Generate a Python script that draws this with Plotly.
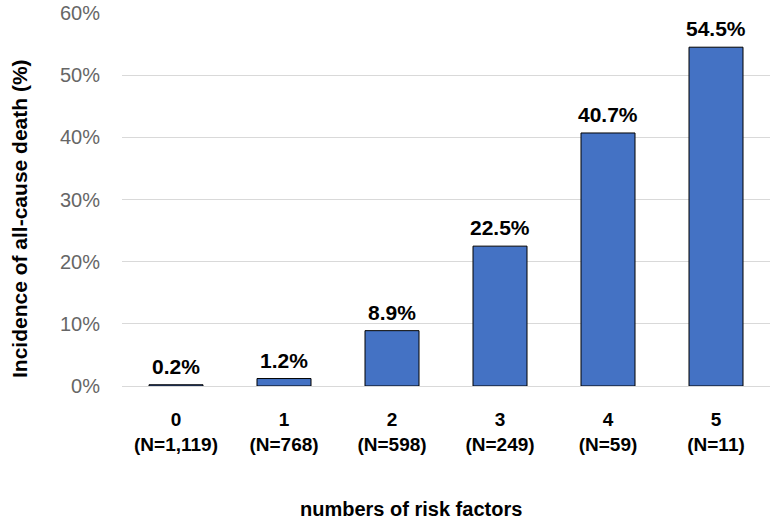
import plotly.graph_objects as go

risk_factors = ["0", "1", "2", "3", "4", "5"]
n_counts = ["1,119", "768", "598", "249", "59", "11"]
incidence = [0.2, 1.2, 8.9, 22.5, 40.7, 54.5]
y_ticks = [0, 10, 20, 30, 40, 50, 60]
x_title = "numbers of risk factors"
y_title = "Incidence of all-cause death (%)"

categories = [f"<b>{r}</b><br><b>(N={n})</b>" for r, n in zip(risk_factors, n_counts)]

fig = go.Figure()
fig.add_trace(go.Bar(
    x=categories,
    y=incidence,
    width=0.5,
    marker=dict(color="#4472C4", line=dict(color="#000000", width=1)),
    hoverinfo="skip",
))

for c, v in zip(categories, incidence):
    fig.add_annotation(
        x=c, y=v, text=f"<b>{v:.1f}%</b>", showarrow=False,
        yanchor="bottom", yshift=5,
        font=dict(family="Liberation Sans, Arial", size=21, color="#000000"),
    )

# axis titles (offset from plot centre as in the original)
fig.add_annotation(
    xref="paper", yref="paper", x=0.446, y=0, xanchor="center", yanchor="middle",
    yshift=-123, showarrow=False, text=f"<b>{x_title}</b>",
    font=dict(family="Liberation Sans, Arial", size=20, color="#000000"),
)
fig.add_annotation(
    xref="paper", yref="paper", x=0, y=0.4477, xanchor="center", yanchor="middle",
    xshift=-103, textangle=-90, showarrow=False, text=f"<b>{y_title}</b>",
    font=dict(family="Liberation Sans, Arial", size=21, color="#000000"),
)

fig.update_layout(
    width=770, height=522,
    margin=dict(l=122, r=0, t=13, b=136, autoexpand=False),
    paper_bgcolor="white", plot_bgcolor="white",
    showlegend=False,
    bargap=0.5,
    font=dict(family="Liberation Sans, Arial"),
)
fig.update_xaxes(
    type="category", automargin=False,
    showgrid=False, showline=False, zeroline=False,
    ticks="outside", ticklen=16, tickcolor="rgba(0,0,0,0)",
    tickfont=dict(size=19, color="#000000"),
)
fig.update_yaxes(
    range=[0, 60], automargin=False,
    tickvals=y_ticks,
    ticktext=[f"{t}%" for t in y_ticks],
    showgrid=True, gridcolor="#D9D9D9", gridwidth=1,
    zeroline=True, zerolinecolor="#D9D9D9", zerolinewidth=1,
    showline=False,
    ticks="outside", ticklen=17, tickcolor="rgba(0,0,0,0)",
    tickfont=dict(size=20, color="#666666"),
)

fig.write_html(
    "out.html",
    config={"displayModeBar": False},
    post_script="document.body.style.margin='0';",
)
